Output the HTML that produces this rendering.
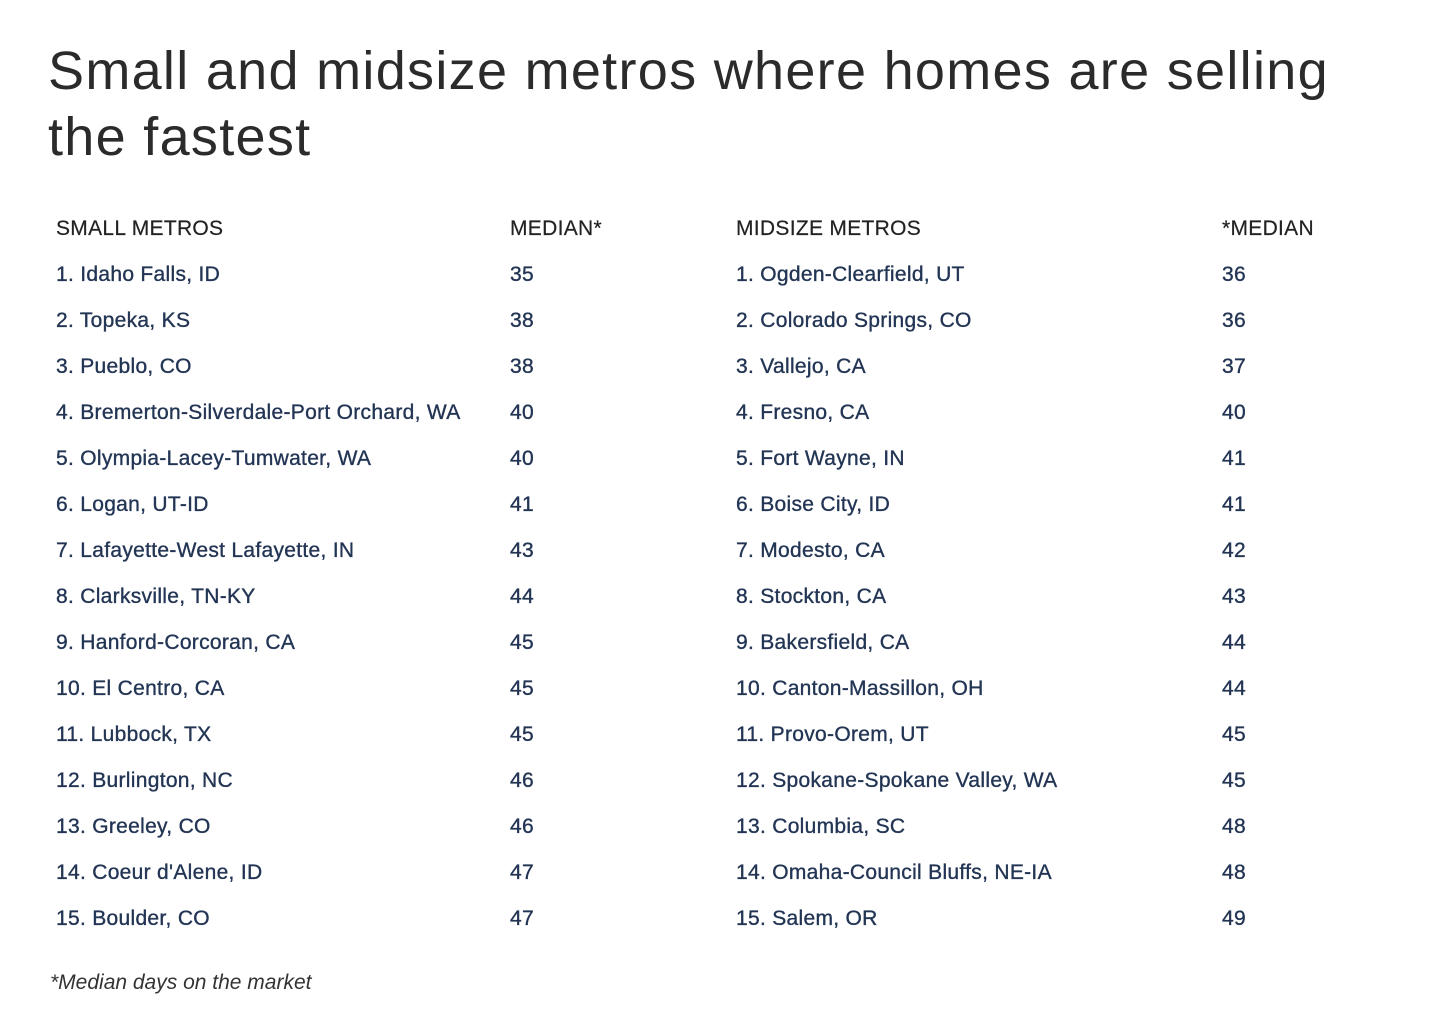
<!DOCTYPE html>
<html><head><meta charset="utf-8"><style>
body{margin:0;width:1450px;height:1012px;background:#fff;position:relative;overflow:hidden;font-family:"Liberation Sans",sans-serif}
h1{position:absolute;left:48px;top:38px;margin:0;font-weight:normal;font-size:54px;line-height:66px;color:#2b2b2b;letter-spacing:1.3px;width:1340px}
.c{position:absolute;font-size:21px;line-height:24px;white-space:nowrap;color:#233554;letter-spacing:0.3px;-webkit-text-stroke:0.35px #233554}
.h{color:#222;-webkit-text-stroke:0.2px #222}
.fn{position:absolute;left:50px;top:971px;font-size:21px;font-style:italic;color:#333}
</style></head><body>
<h1>Small and midsize metros where homes are selling the fastest</h1>
<div id="t"></div>
<div class="fn">*Median days on the market</div>
<script>
const smallNames=["Idaho Falls, ID","Topeka, KS","Pueblo, CO","Bremerton-Silverdale-Port Orchard, WA","Olympia-Lacey-Tumwater, WA","Logan, UT-ID","Lafayette-West Lafayette, IN","Clarksville, TN-KY","Hanford-Corcoran, CA","El Centro, CA","Lubbock, TX","Burlington, NC","Greeley, CO","Coeur d'Alene, ID","Boulder, CO"];
const smallValues=[35,38,38,40,40,41,43,44,45,45,45,46,46,47,47];
const midNames=["Ogden-Clearfield, UT","Colorado Springs, CO","Vallejo, CA","Fresno, CA","Fort Wayne, IN","Boise City, ID","Modesto, CA","Stockton, CA","Bakersfield, CA","Canton-Massillon, OH","Provo-Orem, UT","Spokane-Spokane Valley, WA","Columbia, SC","Omaha-Council Bluffs, NE-IA","Salem, OR"];
const midValues=[36,36,37,40,41,41,42,43,44,44,45,45,48,48,49];
const t=document.getElementById('t');
function cell(x,y,txt,cls,name){const d=document.createElement('div');d.className='c '+cls;d.style.left=x+'px';d.style.top=(y-11)+'px';d.textContent=txt;


t.appendChild(d);}
cell(56,228,'SMALL METROS','h','small-metros-header');
cell(510,228,'MEDIAN*','h','small-median-header');
cell(736,228,'MIDSIZE METROS','h','midsize-metros-header');
cell(1222,228,'*MEDIAN','h','midsize-median-header');
smallNames.forEach((n,i)=>{const y=274+46*i;cell(56,y,(i+1)+'. '+n,'','small-metro-name');cell(510,y,String(smallValues[i]),'','small-metro-median');});
midNames.forEach((n,i)=>{const y=274+46*i;cell(736,y,(i+1)+'. '+n,'','midsize-metro-name');cell(1222,y,String(midValues[i]),'','midsize-metro-median');});
</script>
</body></html>
